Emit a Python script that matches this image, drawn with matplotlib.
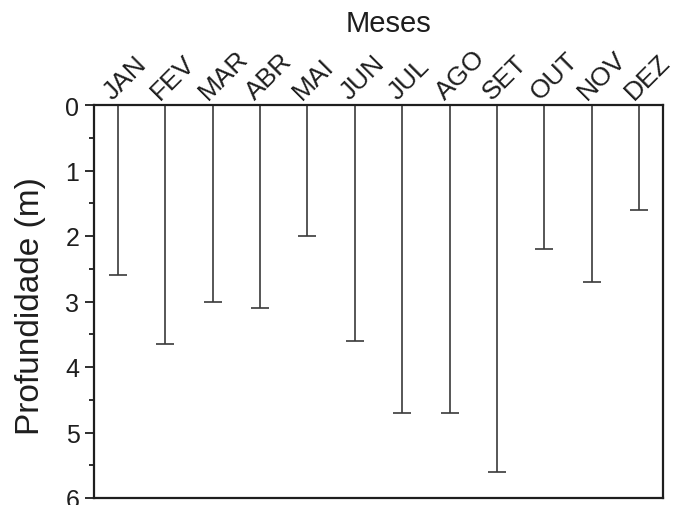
import numpy as np
import matplotlib
matplotlib.use("Agg")
import matplotlib.pyplot as plt
from matplotlib.ticker import MultipleLocator
import matplotlib.transforms as mtransforms

plt.rcParams['font.family'] = ['Liberation Sans', 'DejaVu Sans']

# monthly max depth (m)
meses = ['JAN', 'FEV', 'MAR', 'ABR', 'MAI', 'JUN',
         'JUL', 'AGO', 'SET', 'OUT', 'NOV', 'DEZ']
profundidade = [2.6, 3.65, 3.0, 3.1, 2.0, 3.6, 4.7, 4.7, 5.6, 2.2, 2.7, 1.6]

line_col = '#3a3a3a'
ink = '#1e1e1e'

fig = plt.figure(figsize=(6.74, 5.06), dpi=100)
ax = fig.add_axes([94/674, 1 - 499/506, (663 - 94)/674, (499 - 106)/506])

x = np.arange(len(meses))
ax.vlines(x, 0, profundidade, color=line_col, lw=1.2)
ax.hlines(profundidade, x - 0.19, x + 0.19, color=line_col, lw=1.2)

ax.set_xlim(-0.5, len(meses) - 0.5)
ax.set_ylim(6, 0)

for s in ax.spines.values():
    s.set_linewidth(1.6)
    s.set_color(ink)

ax.set_xticks([])
ax.yaxis.set_major_locator(MultipleLocator(1))
ax.yaxis.set_minor_locator(MultipleLocator(0.5))
ax.tick_params(axis='y', which='major', direction='out', length=6.5, width=1.3,
               color=ink, labelsize=18, labelcolor=ink, pad=4)
ax.tick_params(axis='y', which='minor', direction='out', length=3.5, width=1.3,
               color=ink)

# month labels, rotated 45 deg above the top spine
offset = mtransforms.ScaledTranslation(-5/100, 5/100, fig.dpi_scale_trans)
trans = mtransforms.blended_transform_factory(ax.transData, ax.transAxes) + offset
for xi, m in zip(x, meses):
    ax.text(xi, 1.0, m, transform=trans, rotation=45, rotation_mode='anchor',
            ha='left', va='baseline', fontsize=19, color=ink)

fig.text(388/674, 1 - 32/506, 'Meses', ha='center', va='baseline',
         fontsize=21, color=ink)

ax.set_ylabel('Profundidade (m)', fontsize=24, color=ink)
ax.yaxis.set_label_coords((46 - 94)/569, 0.49)

fig.savefig('out.png', dpi=100)
